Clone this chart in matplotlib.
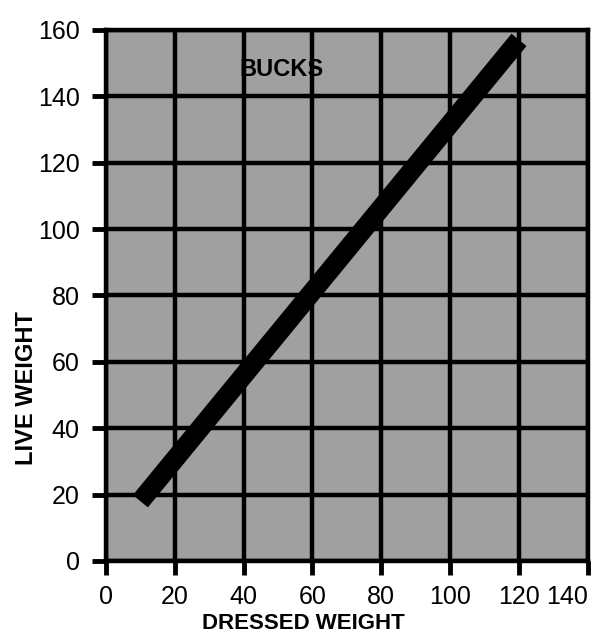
import matplotlib.pyplot as plt

# Data
dressed_weight = [10, 120]
live_weight = [18, 157]
x_ticks = [0, 20, 40, 60, 80, 100, 120, 140]
y_ticks = [0, 20, 40, 60, 80, 100, 120, 140, 160]
title_text = 'BUCKS'

plt.rcParams['font.family'] = ['Liberation Sans', 'DejaVu Sans']

fig = plt.figure(figsize=(5.92, 6.36), dpi=100)
ax = fig.add_axes([0.179, 0.118, 0.814, 0.835])
ax.set_facecolor('#a0a0a0')

ax.set_xlim(0, 140)
ax.set_ylim(0, 160)
ax.set_xticks(x_ticks)
ax.set_yticks(y_ticks)
ax.tick_params(direction='out', length=10, width=3.5, labelsize=18, color='black')
ax.tick_params(axis='y', pad=9)
ax.tick_params(axis='x', pad=7)
# last x label sits inside the figure edge, as in the original
ax.get_xticklabels()[-1].set_horizontalalignment('right')

ax.grid(True, color='black', linewidth=3.2)
ax.set_axisbelow(True)
for sp in ax.spines.values():
    sp.set_linewidth(3.2)

ax.plot(dressed_weight, live_weight, color='black', linewidth=14,
        solid_capstyle='butt', zorder=3)

ax.text(51, 148, title_text, fontsize=17, fontweight='bold', ha='center', va='center')

ax.set_xlabel('DRESSED WEIGHT', fontsize=16, fontweight='bold')
ax.set_ylabel('LIVE WEIGHT', fontsize=17, fontweight='bold')
ax.xaxis.set_label_coords(0.409, -0.098)
ax.yaxis.set_label_coords(-0.141, 0.326)

fig.savefig('out.png', dpi=100)
